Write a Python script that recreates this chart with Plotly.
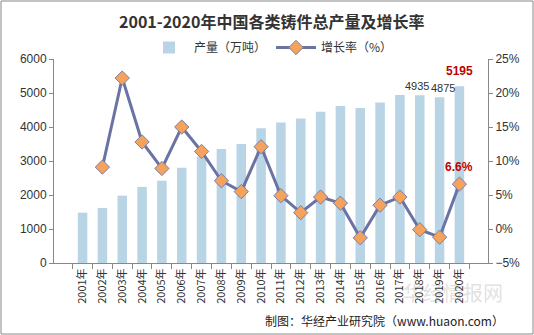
import plotly.graph_objects as go

years = [f"{y}年" for y in range(2001, 2021)]
output = [1480, 1620, 1980, 2240, 2420, 2800, 3130, 3350, 3500, 3960,
          4130, 4250, 4450, 4620, 4560, 4720, 4940, 4935, 4875, 5195]
growth = [None, 9.1, 22.2, 12.8, 8.9, 15.0, 11.4, 7.1, 5.5, 12.1,
          4.9, 2.4, 4.7, 3.8, -1.3, 3.5, 4.7, -0.1, -1.2, 6.6]

L, R, T, B = 54, 46, 59, 72
W, H = 534, 335
pw, ph = W - L - R, H - T - B

fig = go.Figure()
fig.add_trace(go.Bar(x=years, y=output, name="产量（万吨）",
                     marker=dict(color="#b8d4e5", line=dict(width=0)), yaxis="y"))
fig.add_trace(go.Scatter(x=years, y=growth, name="增长率（%）", yaxis="y2",
                         mode="lines+markers",
                         line=dict(color="#6a73a3", width=3),
                         marker=dict(symbol="diamond", size=11, color="#f4a25c",
                                     line=dict(color="#7a80a8", width=1))))

ann = []
for i, xs in ((17, -3), (18, 3)):
    ann.append(dict(x=years[i], y=output[i], yref="y", text=str(output[i]), showarrow=False,
                    yanchor="bottom", yshift=1, xshift=xs,
                    font=dict(family="Liberation Sans", size=11, color="#333")))
ann.append(dict(x=years[19], y=output[19], yref="y", text="<b>%d</b>" % output[19], showarrow=False,
                yanchor="bottom", yshift=6, font=dict(family="Liberation Sans", size=12, color="#c00000")))
ann.append(dict(x=years[19], y=growth[19], yref="y2", text="<b>6.6%</b>", showarrow=False,
                yanchor="bottom", yshift=8, font=dict(family="Liberation Sans", size=12, color="#c00000")))
ann.append(dict(xref="paper", yref="paper", x=(506 - L) / pw, y=-(320 - (T + ph)) / ph,
                xanchor="right", yanchor="middle", showarrow=False,
                text="制图：华经产业研究院（www.huaon.com）",
                font=dict(family="Noto Sans CJK SC", size=12, color="#222")))
ann.append(dict(xref="paper", yref="paper", x=(505 - L) / pw, y=-(292 - (T + ph)) / ph,
                xanchor="right", yanchor="middle", showarrow=False,
                text="华经情报网", font=dict(family="Noto Sans CJK SC", size=20, color="rgba(150,150,150,0.3)")))
ann.append(dict(xref="paper", yref="paper", x=0.5, y=(T + ph - 21) / ph,
                xanchor="center", yanchor="middle", showarrow=False,
                text="<b>2001-2020年中国各类铸件总产量及增长率</b>",
                font=dict(family="Noto Sans CJK SC", size=16, color="#333")))

fig.update_layout(
    width=W, height=H, margin=dict(l=L, r=R, t=T, b=B),
    paper_bgcolor="white", plot_bgcolor="white",
    bargap=0.52, showlegend=True,
    legend=dict(orientation="h", x=0.5, xanchor="center", y=(T + ph - 33) / ph,
                yanchor="top", font=dict(family="Noto Sans CJK SC", size=12, color="#333"),
                itemwidth=40, tracegroupgap=0, bgcolor="rgba(0,0,0,0)"),
    xaxis=dict(type="category", tickangle=-90, tickson="boundaries", ticks="outside", ticklen=5,
               tickcolor="#888", showline=True, linecolor="#888", linewidth=1,
               tickfont=dict(family="Noto Sans CJK SC", size=11, color="#333"), showgrid=False),
    yaxis=dict(range=[0, 6000], dtick=1000, showgrid=False, showline=True, linecolor="#888",
               ticks="outside", ticklen=4, tickcolor="#888", zeroline=False,
               tickfont=dict(family="Liberation Sans", size=12, color="#333")),
    yaxis2=dict(range=[-5, 25], dtick=5, overlaying="y", side="right", ticksuffix="%",
                showgrid=False, showline=True, linecolor="#888", ticks="outside", ticklen=4,
                tickcolor="#888", zeroline=False,
                tickfont=dict(family="Liberation Sans", size=12, color="#333")),
    annotations=ann,
    shapes=[dict(type="rect", xref="paper", yref="paper",
                 x0=(1 - L) / pw, x1=(533 - L) / pw,
                 y0=-(334 - (T + ph)) / ph, y1=(T + ph - 1) / ph,
                 line=dict(color="#888", width=1))],
)
fig.write_html("out.html")
